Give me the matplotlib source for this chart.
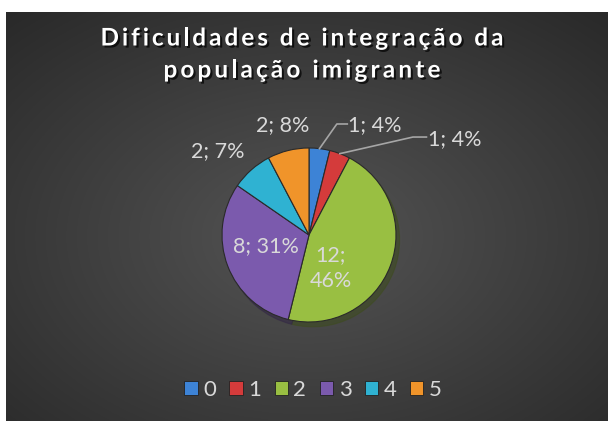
import numpy as np
import matplotlib
matplotlib.use('Agg')
import matplotlib.pyplot as plt
import matplotlib.patches as mpatches
import matplotlib.patheffects as pe

# data
categories = ['0', '1', '2', '3', '4', '5']
counts = [1, 1, 12, 8, 2, 2]
label_texts = ['1; 4%', '1; 4%', '12;\n46%', '8; 31%', '2; 7%', '2; 8%']
colors = ['#3d83d6', '#d43b3b', '#99bf42', '#7b5aad', '#2fb2d2', '#f0942a']
title_lines = ['Dificuldades de integração da', 'população imigrante']

W, H = 608, 421
fig = plt.figure(figsize=(W / 100, H / 100), dpi=100, facecolor='white')
renderer = fig.canvas.get_renderer()

# dark chart area with radial gradient
bg = fig.add_axes([6 / W, 0, (W - 6) / W, (H - 12) / H])
yy, xx = np.mgrid[0:1:300j, 0:1:400j]
rr = np.sqrt(((xx - 0.5) / 0.75) ** 2 + ((yy - 0.55) / 0.75) ** 2)
shade = np.clip(0.33 - 0.17 * rr, 0.16, 0.33)
bg.imshow(np.dstack([shade] * 3), aspect='auto', extent=(0, 1, 0, 1))
bg.set_axis_off()

# blue heading above chart (cut off, only descenders show)
fig.text(295 / W, 1 + 5 / H, 'população imigrante', ha='center', va='baseline',
         fontsize=17, fontweight='bold', color='#2e74d0', family='Lato')


def text_width(s, **kw):
    tt = fig.text(0, 0, s + '|', **kw)
    w = tt.get_window_extent(renderer).width
    tt.remove()
    tt = fig.text(0, 0, '|', **kw)
    w -= tt.get_window_extent(renderer).width
    tt.remove()
    return w


def spaced_title(s, xc, yc, target_w, **kw):
    # letter-spaced text, one glyph at a time
    natural = text_width(s, **kw)
    gap = (target_w - natural) / (len(s) - 1)
    x0 = xc - target_w / 2
    for i, ch in enumerate(s):
        if ch == ' ':
            continue
        x = x0 + text_width(s[:i], **kw) + i * gap
        tt = fig.text(x / W, 1 - yc / H, ch, ha='left', va='center', **kw)
        tt.set_path_effects([pe.withSimplePatchShadow(offset=(1.5, -1.5), shadow_rgbFace='black', alpha=0.7)])


tkw = dict(fontsize=17.5, fontweight='bold', color='white', family='Lato')
spaced_title(title_lines[0], 302, 38, 403, **tkw)
spaced_title(title_lines[1], 302, 70, 277, **tkw)

# pie
cx, cy, R = 309, 235, 87
ax = fig.add_axes([(cx - R) / W, (H - cy - R) / H, 2 * R / W, 2 * R / H])
wedges, _ = ax.pie(counts, colors=colors, startangle=90, counterclock=False, radius=1,
                   wedgeprops=dict(edgecolor='#2a2a2a', linewidth=0.8),
                   shadow=dict(ox=0.03, oy=-0.04, shade=0.6, alpha=0.5))
ax.set_xlim(-1, 1)
ax.set_ylim(-1, 1)
ax.set_aspect('equal')
ax.set_axis_off()

# label positions (pie data coords)
label_pos = [(0.45, 1.26), (1.37, 1.10), (0.25, -0.38), (-0.49, -0.13), (-1.05, 0.97), (-0.30, 1.26)]
label_ha = ['left', 'left', 'center', 'center', 'center', 'center']
for i, txt in enumerate(label_texts):
    ax.text(label_pos[i][0], label_pos[i][1], txt, ha=label_ha[i], va='center',
            fontsize=15.5, color='#d9d9d9', family='Lato', linespacing=1.35)

# leader lines for the two small slices
elbows = {0: [(0.32, 1.276), (0.44, 1.276)], 1: [(1.195, 1.126), (1.35, 1.126)]}
for i, pts in elbows.items():
    w = wedges[i]
    mid = np.deg2rad((w.theta1 + w.theta2) / 2)
    xs = [np.cos(mid)] + [p[0] for p in pts]
    ys = [np.sin(mid)] + [p[1] for p in pts]
    ax.plot(xs, ys, color='#a6a6a6', lw=1.2, clip_on=False)

# legend
handles = [mpatches.Patch(facecolor=c, edgecolor='#222222', linewidth=0.6) for c in colors]
fig.legend(handles, categories, loc='center', bbox_to_anchor=(313 / W, 1 - 390 / H), ncol=6,
           frameon=False, labelcolor='#d9d9d9', prop={'family': 'Lato', 'size': 16},
           handlelength=0.6, handleheight=0.6, handletextpad=0.25, columnspacing=0.6)

plt.savefig('out.png', dpi=100)
